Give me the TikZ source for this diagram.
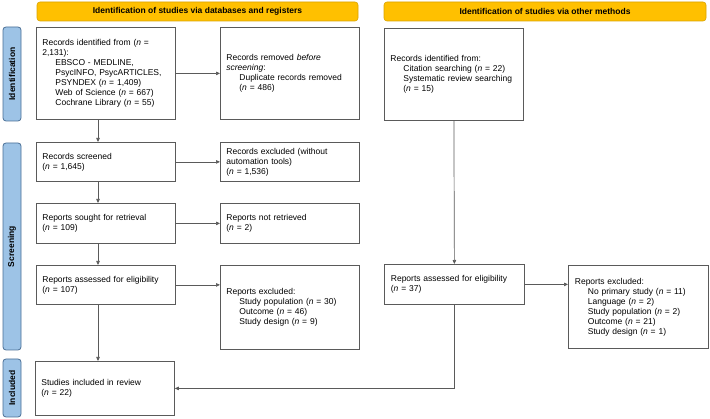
\documentclass[tikz,border=0pt]{standalone}
\usepackage{fontspec}
\setmainfont{Liberation Sans}
\usetikzlibrary{arrows.meta}
\definecolor{bannerfill}{HTML}{FFC000}
\definecolor{bannerline}{HTML}{D9A300}
\definecolor{phasefill}{HTML}{9DC3E6}
\definecolor{phaseline}{HTML}{4A6F96}
\definecolor{boxline}{HTML}{5A5A5A}
\newcommand{\nn}{\textit{n}}
\newcommand{\subline}[1]{\hspace*{13pt}\mbox{#1}}

\begin{document}
\begin{tikzpicture}[x=1pt,y=-1pt,
        >={Triangle[length=4pt,width=3.5pt]},
        banner/.style={draw=bannerline,fill=bannerfill,rounded corners=3pt,line width=0.6pt,
            minimum height=19pt,inner sep=0pt,font=\fontsize{8.5}{10}\selectfont\bfseries},
        phase/.style={draw=phaseline,fill=phasefill,rounded corners=3pt,line width=0.8pt,
            rotate=90,minimum height=18pt,inner sep=0pt,font=\fontsize{8.5}{10}\selectfont\bfseries},
        box/.style={draw=boxline,line width=0.8pt,anchor=north west,inner xsep=6pt,inner ysep=0pt,
            align=left,text width=127pt,font=\fontsize{8.5}{10}\selectfont},
        arr/.style={->,draw=boxline,line width=0.7pt}]
            \useasboundingbox (0,0) rectangle (710,419);

            \node[banner,minimum width=321pt] (hdrdb) at (197.5,11.5) {Identification of studies via databases and registers};
            \node[banner,minimum width=322pt] (hdroth) at (545,11.5) {Identification of studies via other methods};

            \node[phase,minimum width=94pt] (phid) at (12,74) {Identification};
            \node[phase,minimum width=207pt] (phscr) at (12,246.5) {Screening};
            \node[phase,minimum width=58pt] (phinc) at (12,388) {Included};

            \node[box,minimum width=139pt,minimum height=92pt] (rid) at (36,27)
                {\mbox{Records identified from (\nn{} =}\\2,131):\\\subline{EBSCO - MEDLINE,}\\\subline{PsycINFO, PsycARTICLES,}\\\subline{PSYNDEX (\nn{} = 1,409)}\\\subline{Web of Science (\nn{} = 667)}\\\subline{Cochrane Library (\nn{} = 55)}};
            \node[box,minimum width=138pt,minimum height=92pt] (rem) at (220,27)
                {Records removed \textit{before}\\\textit{screening}:\\\subline{Duplicate records removed}\\\subline{(\nn{} = 486)}};
            \node[box,minimum width=139pt,minimum height=92pt] (oth) at (384,28)
                {Records identified from:\\\subline{Citation searching (\nn{} = 22)}\\\subline{Systematic review searching}\\\subline{(\nn{} = 15)}};

            \node[box,minimum width=139pt,minimum height=39pt] (scr) at (36,142) {Records screened\\(\nn{} = 1,645)};
            \node[box,minimum width=138pt,minimum height=39pt] (exc) at (220,142) {\mbox{Records excluded (without}\\automation tools)\\(\nn{} = 1,536)};
            \node[box,minimum width=139pt,minimum height=40pt] (sou) at (36,203) {\mbox{Reports sought for retrieval}\\(\nn{} = 109)};
            \node[box,minimum width=138pt,minimum height=40pt] (nre) at (220,203) {Reports not retrieved\\(\nn{} = 2)};
            \node[box,minimum width=139pt,minimum height=39pt] (ass) at (36,265) {\mbox{Reports assessed for eligibility}\\(\nn{} = 107)};
            \node[box,minimum width=138pt,minimum height=84pt] (rex) at (220,265)
                {Reports excluded:\\\subline{Study population (\nn{} = 30)}\\\subline{Outcome (\nn{} = 46)}\\\subline{Study design (\nn{} = 9)}};
            \node[box,minimum width=140pt,minimum height=40pt] (oas) at (384,264) {\mbox{Reports assessed for eligibility}\\(\nn{} = 37)};
            \node[box,minimum width=140pt,minimum height=83pt] (oex) at (568,265)
                {Reports excluded:\\\subline{No primary study (\nn{} = 11)}\\\subline{Language (\nn{} = 2)}\\\subline{Study population (\nn{} = 2)}\\\subline{Outcome (\nn{} = 21)}\\\subline{Study design (\nn{} = 1)}};
            \node[box,minimum width=139pt,minimum height=54pt] (inc) at (35,361) {Studies included in review\\(\nn{} = 22)};

            \coordinate (spine) at (98,0);

            \draw[arr] (rid.south -| spine) -- (scr.north -| spine);
            \draw[arr] (scr.south -| spine) -- (sou.north -| spine);
            \draw[arr] (sou.south -| spine) -- (ass.north -| spine);
            \draw[arr] (ass.south -| spine) -- (inc.north -| spine);
            \draw[arr] (rid.east) -- (rem.west);
            \draw[arr] (scr.east) -- (exc.west);
            \draw[arr] (sou.east) -- (nre.west);
            \draw[arr] (ass.east) -- (rex.west |- ass.east);
            \draw[arr] (oth.south) -- (oas.north);
            \draw[arr] (oas.east) -- (oex.west |- oas.east);
            \draw[arr] (oas.south) |- (inc.east);
        \end{tikzpicture}
\end{document}
